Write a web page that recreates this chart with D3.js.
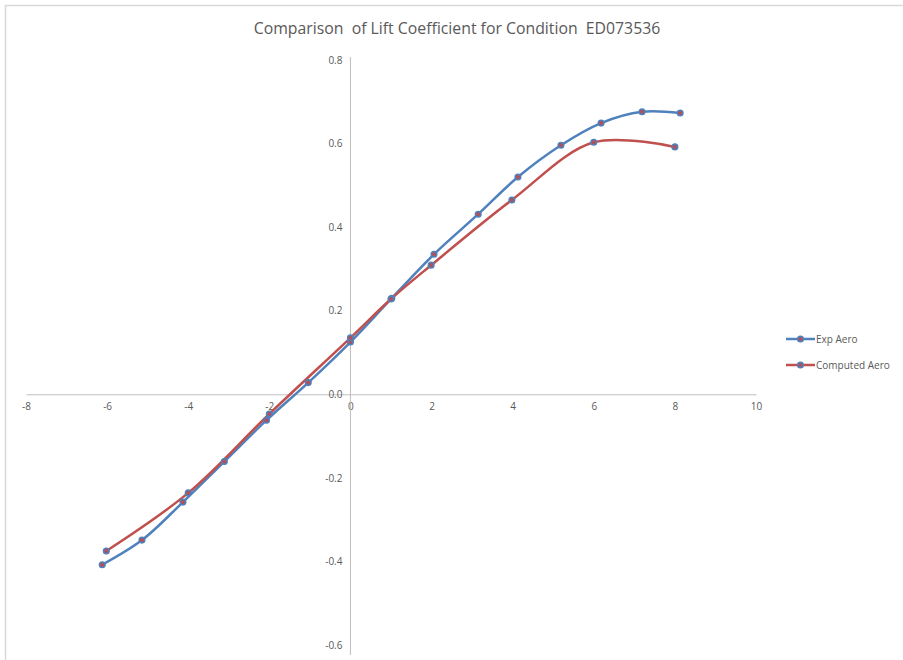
<!DOCTYPE html>
<html>
<head>
<meta charset="utf-8">
<script src="https://cdn.jsdelivr.net/npm/d3@7"></script>
<style>
body { margin: 0; background: #fff; }
</style>
</head>
<body>
<script>
// data
var expX = [-6.12, -5.14, -4.13, -3.11, -2.07, -1.04, 0.0, 1.02, 2.06, 3.15, 4.13, 5.19, 6.18, 7.19, 8.13];
var expY = [-0.408, -0.349, -0.258, -0.161, -0.062, 0.028, 0.125, 0.23, 0.335, 0.431, 0.52, 0.596, 0.649, 0.676, 0.673];
var compX = [-6.02, -4.0, -2.0, 0.0, 1.0, 1.99, 3.98, 6.0, 8.0];
var compY = [-0.375, -0.236, -0.047, 0.135, 0.228, 0.309, 0.465, 0.603, 0.592];
var xTicks = [-8, -6, -4, -2, 0, 2, 4, 6, 8, 10];
var yTicks = [-0.6, -0.4, -0.2, 0.0, 0.2, 0.4, 0.6, 0.8];
var seriesNames = ["Exp Aero", "Computed Aero"];
var seriesColors = ["#4F81BD", "#C0504D"];

var w = 903;
var h = 660;

var xScale = d3.scaleLinear()
				.domain([-8, 10])
				.range([26, 756]);

var yScale = d3.scaleLinear()
				.domain([-0.6, 0.8])
				.range([645, 60]);

var svg = d3.select("body")
			.append("svg")
			.attr("width", w)
			.attr("height", h)
			.style("font-family", "'Open Sans', sans-serif");

// chart area border (only top/left show)
svg.append("rect")
	.attr("x", 5.5)
	.attr("y", 5.5)
	.attr("width", 1000)
	.attr("height", 1000)
	.attr("fill", "none")
	.attr("stroke", "#D9D9D9")
	.attr("stroke-width", 1.5);

svg.append("text")
	.attr("x", 457)
	.attr("y", 34)
	.attr("text-anchor", "middle")
	.attr("font-size", "15.8px")
	.attr("fill", "#595959")
	.style("white-space", "pre")
	.text("Comparison  of Lift Coefficient for Condition  ED073536");

// hyphen minus like the original
var fmtX = function(d){ return String(d); };
var fmtY = function(d){ return d.toFixed(1); };

// axes crossing at zero
var xAxis = d3.axisBottom(xScale).tickValues(xTicks).tickSize(0).tickPadding(9).tickFormat(fmtX);
var yAxis = d3.axisLeft(yScale).tickValues(yTicks).tickSize(0).tickPadding(8).tickFormat(fmtY);

var appendX = svg.append("g")
			  .attr("transform", "translate(0," + yScale(0) + ")")
			  .call(xAxis);

var appendY = svg.append("g")
			  .attr("transform", "translate(" + xScale(0) + ",0)")
			  .call(yAxis);

appendY.select(".domain").attr("d", "M0,57V655");

svg.selectAll(".domain")
	.attr("stroke", "#BFBFBF")
	.attr("stroke-width", 1);

svg.selectAll(".tick text")
	.attr("fill", "#595959")
	.attr("font-size", "10px")
	.attr("font-family", "'Open Sans', sans-serif");

var series = [
	expX.map(function(x, i){ return {x: x, y: expY[i]}; }),
	compX.map(function(x, i){ return {x: x, y: compY[i]}; })
];

var line = d3.line()
				.curve(d3.curveCatmullRom.alpha(0.5))
				.x(function(d){ return xScale(d.x); })
				.y(function(d){ return yScale(d.y); });

series.forEach(function(s, k){
	svg.append("path")
		.attr("d", line(s))
		.attr("fill", "none")
		.attr("stroke", seriesColors[k])
		.attr("stroke-width", 2.5);
});

series.forEach(function(s, k){
	svg.selectAll(".pt" + k)
		.data(s)
		.enter()
		.append("circle")
		.attr("cx", function(d){ return xScale(d.x); })
		.attr("cy", function(d){ return yScale(d.y); })
		.attr("r", 2.8)
		.attr("fill", "#B0505A")
		.attr("stroke", "#4F81BD")
		.attr("stroke-width", 1.5);
});

// legend
var legend = svg.selectAll(".legend")
			.data(seriesNames)
			.enter()
			.append("g")
			.attr("transform", function(d, i){ return "translate(786," + (339 + i * 26) + ")"; });

legend.append("line")
	.attr("x1", 0)
	.attr("x2", 29)
	.attr("stroke", function(d, i){ return seriesColors[i]; })
	.attr("stroke-width", 2.5);

legend.append("circle")
	.attr("cx", 14.5)
	.attr("r", 2.8)
	.attr("fill", "#B0505A")
	.attr("stroke", "#4F81BD")
	.attr("stroke-width", 1.5);

legend.append("text")
	.attr("x", 30)
	.attr("y", 3.5)
	.attr("font-size", "10px")
	.attr("fill", "#595959")
	.text(function(d){ return d; });
</script>
</body>
</html>
